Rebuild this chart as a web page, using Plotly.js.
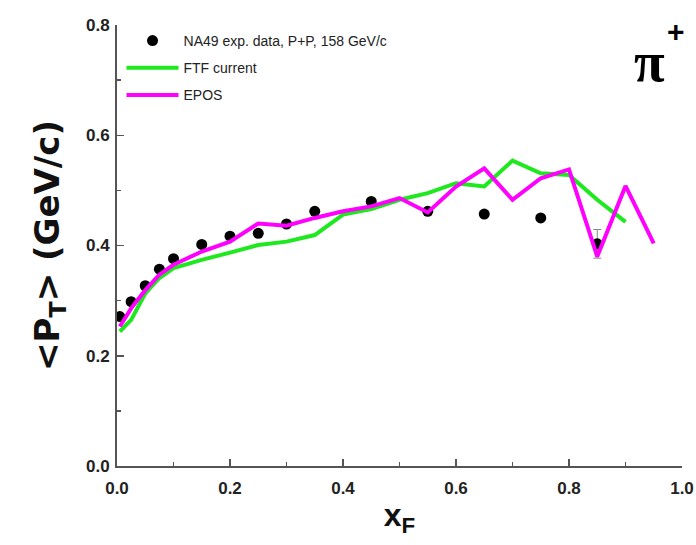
<!DOCTYPE html>
<html>
<head>
<meta charset="utf-8">
<script src="https://cdn.plot.ly/plotly-3.0.1.min.js"></script>
<style>html,body{margin:0;padding:0;background:#fff;}#chart{width:696px;height:545px;}</style>
</head>
<body>
<div id="chart"></div>
<script>
// NA49 experimental data, p+p, 158 GeV/c (pi+)
const dataX = [0.005, 0.025, 0.05, 0.075, 0.1, 0.15, 0.2, 0.25, 0.3, 0.35, 0.45, 0.55, 0.65, 0.75, 0.85];
const dataY = [0.271, 0.298, 0.327, 0.357, 0.376, 0.402, 0.417, 0.422, 0.439, 0.462, 0.480, 0.462, 0.457, 0.450, 0.403];
const dataErr = [0, 0, 0, 0, 0, 0, 0, 0, 0, 0, 0, 0, 0, 0, 0.026];

// FTF current
const ftfX = [0.005, 0.025, 0.05, 0.075, 0.1, 0.15, 0.2, 0.25, 0.3, 0.35, 0.4, 0.45, 0.5, 0.55, 0.6, 0.65, 0.7, 0.75, 0.8, 0.85, 0.9];
const ftfY = [0.244, 0.265, 0.313, 0.341, 0.359, 0.374, 0.387, 0.401, 0.407, 0.419, 0.456, 0.466, 0.483, 0.495, 0.513, 0.507, 0.554, 0.531, 0.528, 0.483, 0.443];

// EPOS
const eposX = [0.005, 0.025, 0.05, 0.075, 0.1, 0.15, 0.2, 0.25, 0.3, 0.35, 0.4, 0.45, 0.5, 0.55, 0.6, 0.65, 0.7, 0.75, 0.8, 0.85, 0.9, 0.95];
const eposY = [0.253, 0.286, 0.319, 0.347, 0.365, 0.389, 0.407, 0.440, 0.436, 0.450, 0.462, 0.471, 0.486, 0.460, 0.507, 0.540, 0.483, 0.522, 0.538, 0.380, 0.508, 0.404];

const names = ["NA49 exp. data, P+P, 158 GeV/c", "FTF current", "EPOS"];
const xTicks = [0, 0.2, 0.4, 0.6, 0.8, 1.0];
const yTicks = [0, 0.2, 0.4, 0.6, 0.8];

const fam = "Liberation Sans, Arial, sans-serif";

const traces = [
  {
    x: dataX, y: dataY, type: "scatter", mode: "markers", name: names[0],
    marker: {color: "#000", size: 11},
    error_y: {type: "data", array: dataErr, visible: true, color: "#888", thickness: 1, width: 4},
    legendgroup: "a"
  },
  {
    x: ftfX, y: ftfY, type: "scatter", mode: "lines", name: names[1],
    line: {color: "#1ee81e", width: 4},
    legendgroup: "b"
  },
  {
    x: eposX, y: eposY, type: "scatter", mode: "lines", name: names[2],
    line: {color: "#ff00ff", width: 4},
    legendgroup: "c"
  }
];

const axisCommon = {
  showgrid: false, zeroline: false, showline: true, linecolor: "#555", linewidth: 2,
  ticks: "inside", ticklen: 7, tickwidth: 1.5, tickcolor: "#555",
  tickfont: {family: fam, size: 17, color: "#222", weight: "bold"},
  tickformat: ".1f", mirror: false
};

const layout = {
  width: 696, height: 545,
  margin: {l: 117, r: 14, t: 25, b: 79},
  paper_bgcolor: "#fff", plot_bgcolor: "#fff",
  showlegend: true,
  legend: {
    x: 0.008, y: 1.0, xanchor: "left", yanchor: "top",
    bgcolor: "rgba(0,0,0,0)", borderwidth: 0,
    font: {family: fam, size: 14, color: "#222"},
    traceorder: "grouped", tracegroupgap: 6,
    itemwidth: 52
  },
  xaxis: Object.assign({}, axisCommon, {
    range: [0, 1.0], tickvals: xTicks, ticklabelstandoff: 6,
    minor: {dtick: 0.1, ticks: "inside", ticklen: 4, tickcolor: "#555", tickwidth: 1.5},
    title: {text: "x<sub>F</sub>", font: {family: fam, size: 32, color: "#111", weight: "bold"}, standoff: 6}
  }),
  yaxis: Object.assign({}, axisCommon, {
    range: [0, 0.8], tickvals: yTicks, ticklabelstandoff: 2,
    minor: {dtick: 0.1, ticks: "inside", ticklen: 4, tickcolor: "#555", tickwidth: 1.5},
    title: {text: "&lt;P<sub>T</sub>&gt; (GeV/c)", font: {family: "DejaVu Sans, " + fam, size: 34, color: "#111", weight: "bold"}, standoff: 16}
  }),
  annotations: [
    {
      xref: "paper", yref: "paper", x: 0.942, y: 0.917, xanchor: "center", yanchor: "middle",
      text: "π", showarrow: false,
      font: {family: "Liberation Serif, Times New Roman, serif", size: 56, color: "#000", weight: "bold"}
    },
    {
      xref: "paper", yref: "paper", x: 0.989, y: 0.986, xanchor: "center", yanchor: "middle",
      text: "+", showarrow: false,
      font: {family: fam, size: 30, color: "#000", weight: "bold"}
    }
  ]
};

Plotly.newPlot("chart", traces, layout, {displayModeBar: false, staticPlot: true});
</script>
</body>
</html>
